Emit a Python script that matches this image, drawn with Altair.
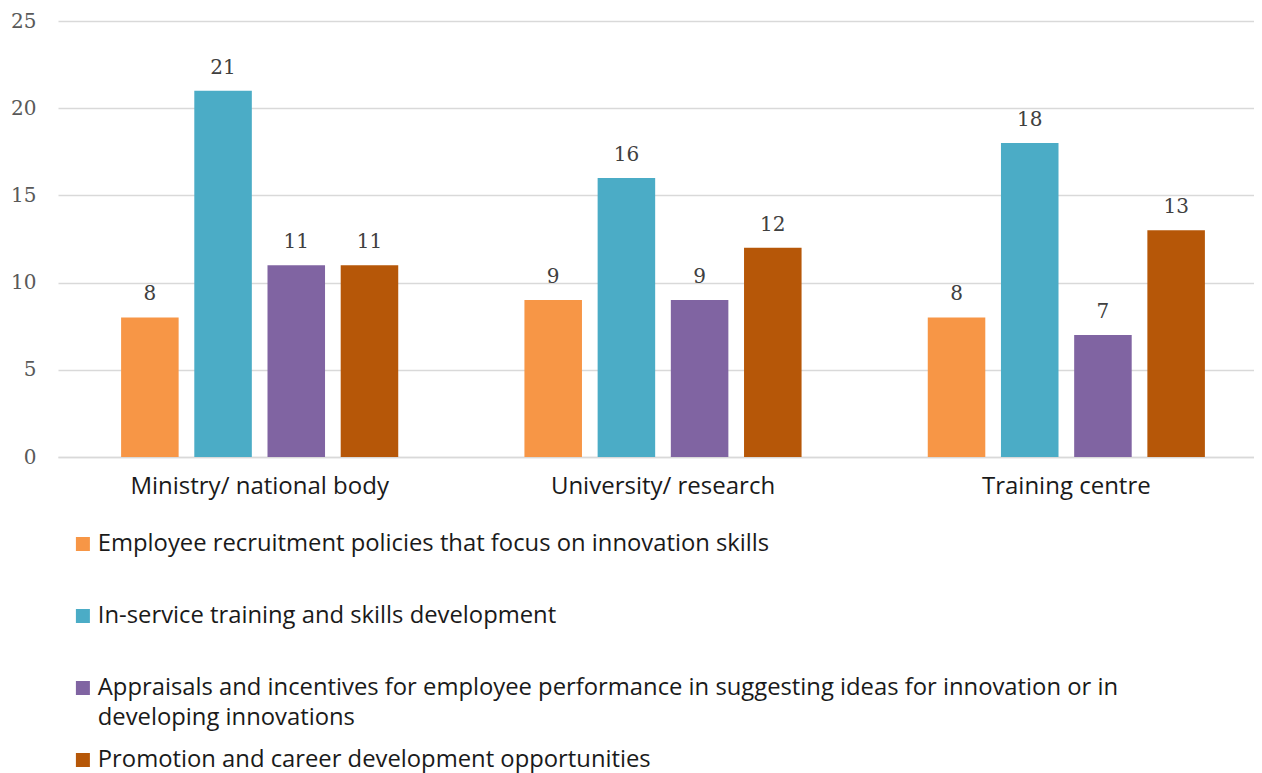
import altair as alt
import pandas as pd

categories = ["Ministry/ national body", "University/ research", "Training centre"]
series = [
    "Employee recruitment policies that focus on innovation skills",
    "In-service training and skills development",
    "Appraisals and incentives for employee performance in suggesting ideas for innovation or in developing innovations",
    "Promotion and career development opportunities",
]
values = {
    series[0]: [8, 9, 8],
    series[1]: [21, 16, 18],
    series[2]: [11, 9, 7],
    series[3]: [11, 12, 13],
}
colors = ["#F79646", "#4BACC6", "#8064A2", "#B65708"]
y_ticks = [0, 5, 10, 15, 20, 25]

rows = []
for s in series:
    for c, v in zip(categories, values[s]):
        rows.append({"category": c, "series": s, "value": v})
df = pd.DataFrame(rows)

label_expr = (
    "datum.label == '" + series[2] + "' ? "
    "['Appraisals and incentives for employee performance in suggesting ideas for innovation or in', 'developing innovations'] : datum.label"
)

x = alt.X("category:N", sort=categories, title=None,
          scale=alt.Scale(paddingInner=0, paddingOuter=0, range=[0, 1210]),
          axis=alt.Axis(labelAngle=0, labelFont="Open Sans", labelFontSize=24,
                        labelColor="#1a1a1a", labelPadding=17, ticks=False,
                        domainColor="#d9d9d9", domainWidth=1.5, labelLimit=400))
xo = alt.XOffset("series:N", sort=series,
                 scale=alt.Scale(paddingInner=0.214, paddingOuter=0.862))
y = alt.Y("value:Q", title=None,
          scale=alt.Scale(domain=[0, 25]),
          axis=alt.Axis(values=y_ticks, labelFont="DejaVu Serif", labelFontSize=20,
                        labelColor="#595959", labelPadding=22, ticks=False, domain=False,
                        gridColor="#d9d9d9", gridWidth=1.5))

bars = alt.Chart(df).mark_bar().encode(
    x=x, xOffset=xo, y=y,
    color=alt.Color("series:N", sort=series, title=None,
                    scale=alt.Scale(domain=series, range=colors),
                    legend=alt.Legend(orient="none", legendX=13, legendY=508,
                                      direction="vertical", symbolType="square",
                                      symbolSize=196, symbolStrokeWidth=0,
                                      labelFont="Open Sans", labelFontSize=23.8,
                                      labelColor="#1a1a1a", labelLimit=1200,
                                      labelOffset=3, rowPadding=15, clipHeight=30,
                                      gridAlign="all",
                                      labelExpr=label_expr)),
)

texts = alt.Chart(df).mark_text(font="DejaVu Serif", fontSize=20, color="#404040",
                                baseline="alphabetic", dy=-17).encode(
    x=x, xOffset=xo, y=y, text="value:Q"
)

chart = (bars + texts).properties(
    width=1196, height=436,
    autosize=alt.AutoSizeParams(type="none"),
    padding={"left": 50, "top": 13, "right": 0, "bottom": 316},
).configure(
    style={"guide-label": {"lineHeight": 30}}
).configure_view(stroke=None)

chart.save("out.html", embed_options={"renderer": "svg", "actions": False})
